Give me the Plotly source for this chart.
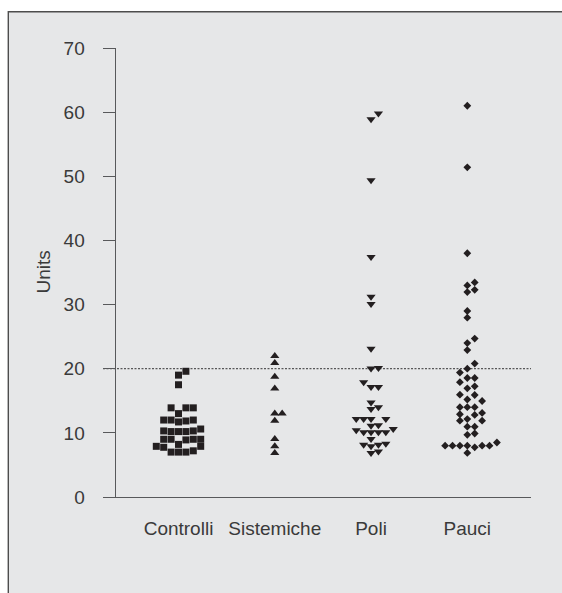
import plotly.graph_objects as go

# ---------------- data ----------------
categories = ["Controlli", "Sistemiche", "Poli", "Pauci"]

controlli = [19.6, 19.0, 17.5,
             13.9, 13.9, 13.9, 13.0,
             12.0, 12.0, 11.85, 11.7, 12.0,
             10.6, 10.2, 10.3, 10.2, 10.3, 10.2,
             9.0, 9.0, 8.9, 9.0, 9.0,
             8.2, 7.9, 7.9, 7.75,
             7.0, 7.0, 7.0, 7.2]

sistemiche = [22.0, 20.9, 18.75, 16.9, 13.0, 13.0, 11.9, 9.05, 7.9, 6.87]

poli = [59.8, 58.9, 49.4, 37.4, 31.2, 30.1, 23.1, 20.05, 20.1, 17.9,
        17.15, 17.15, 14.75, 14.0, 13.7, 12.15, 12.15, 12.15, 12.15,
        11.2, 11.1, 10.6, 10.4, 10.1, 10.1, 10.1, 10.1, 9.05,
        8.3, 8.15, 8.15, 7.9, 7.1, 6.87]

pauci = [61.0, 51.4, 38.0, 33.45, 32.98, 32.3, 31.95, 29.0, 27.95, 24.7,
         24.0, 22.9, 20.8, 20.0, 19.4, 18.55, 18.55, 17.9, 17.25, 16.95,
         15.95, 15.9, 15.2, 14.97, 14.0, 14.0, 14.0, 13.1, 12.9, 12.8,
         12.15, 11.9, 11.9, 10.97, 10.97, 9.9, 9.7, 8.5,
         8.0, 8.0, 8.0, 8.0, 8.0, 8.0, 7.75, 6.87]

reference_level = 20
y_ticks = [0, 10, 20, 30, 40, 50, 60, 70]

# ---------------- styling ----------------
INK = "#231f20"
TEXT = "#3a3a3a"
LINE = "#58595b"
BG = "#e6e7e8"
FONT = "Liberation Sans, Arial, sans-serif"
FS = 19

W, H = 562, 593
L, R, T = 103, 31, 48
B = H - 497.4
plot_w = W - L - R
plot_h = H - T - B

cat_px0, cat_step = 178.5, 96.27
x_lo = (L - cat_px0) / cat_step
x_hi = (W - R - cat_px0) / cat_step
slot = 7.4 / cat_step


def swarm(values, thr=1.0):
    """Column-scatter layout: place each point in the nearest free slot."""
    order = sorted(range(len(values)), key=lambda i: values[i])
    placed = {}
    offs = [0.0] * len(values)
    for i in order:
        v = values[i]
        k = 0
        while True:
            cands = [0] if k == 0 else [k, -k]
            done = False
            for s in cands:
                if all(abs(v - u) >= thr for u in placed.get(s, [])):
                    placed.setdefault(s, []).append(v)
                    offs[i] = s
                    done = True
                    break
            if done:
                break
            k += 1
    return offs


groups = [controlli, sistemiche, poli, pauci]
symbols = ["square", "triangle-up", "triangle-down", "diamond"]
sizes = [7, 8, 8, 6]

fig = go.Figure()
for gi, (vals, sym, sz) in enumerate(zip(groups, symbols, sizes)):
    offs = swarm(vals)
    fig.add_trace(go.Scatter(
        x=[gi + o * slot for o in offs],
        y=vals,
        mode="markers",
        marker=dict(symbol=sym, size=sz, color=INK, line=dict(width=0)),
        showlegend=False,
        cliponaxis=False,
        hoverinfo="y",
    ))

fig.update_layout(
    width=W, height=H,
    margin=dict(l=L, r=R, t=T, b=B, pad=0),
    paper_bgcolor="white",
    plot_bgcolor="rgba(0,0,0,0)",
    font=dict(family=FONT, size=FS, color=TEXT),
    xaxis=dict(
        range=[x_lo, x_hi],
        tickvals=list(range(len(categories))),
        ticktext=categories,
        tickangle=0,
        automargin=False,
        showline=True, linecolor=LINE, linewidth=1.3,
        ticks="outside", ticklen=14, tickcolor="rgba(0,0,0,0)",
        showgrid=False, zeroline=False,
        tickfont=dict(family=FONT, size=FS, color=TEXT),
    ),
    yaxis=dict(
        range=[0, 70],
        tickvals=y_ticks,
        automargin=False,
        anchor="free", position=(114.7 - L) / plot_w,
        showline=True, linecolor=LINE, linewidth=1.3,
        ticks="outside", ticklen=12, tickwidth=1.3, tickcolor=LINE,
        ticklabelstandoff=14,
        showgrid=False, zeroline=False,
        tickfont=dict(family=FONT, size=FS, color=TEXT),
    ),
    shapes=[
        dict(type="rect", xref="paper", yref="paper",
             x0=(8.3 - L) / plot_w, x1=1.3,
             y0=-0.4, y1=(H - B - 11.7) / plot_h,
             fillcolor=BG, line=dict(color="#4d4d4d", width=1.4),
             layer="below"),
        dict(type="line", xref="paper", yref="y",
             x0=0, x1=1, y0=reference_level, y1=reference_level,
             line=dict(color="#333333", width=1, dash="2px,1.5px"),
             layer="below"),
    ],
    annotations=[
        dict(text="Units", xref="paper", yref="paper",
             x=(43 - L) / plot_w, y=0.5, textangle=-90,
             showarrow=False, xanchor="center", yanchor="middle",
             font=dict(family=FONT, size=FS, color=TEXT)),
    ],
)

fig.write_html(
    "out.html",
    config={"displayModeBar": False},
    post_script="document.body.style.margin='0';document.body.style.overflow='hidden';",
)
